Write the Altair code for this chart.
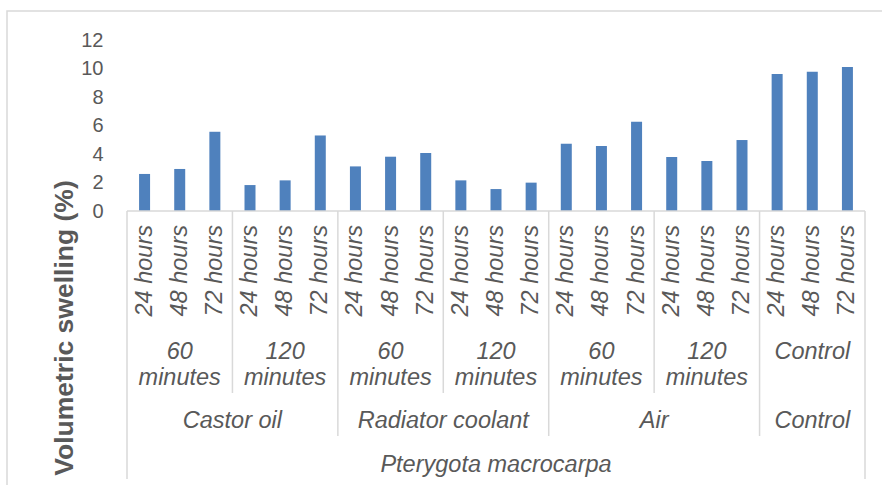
import altair as alt
import pandas as pd

# ---- data ----
species = "Pterygota macrocarpa"
treatments = ["Castor oil", "Radiator coolant", "Air", "Control"]
durations = [["60", "minutes"], ["120", "minutes"], ["60", "minutes"], ["120", "minutes"],
             ["60", "minutes"], ["120", "minutes"], ["Control", ""]]
duration_treatment = [0, 0, 1, 1, 2, 2, 3]
times = ["24 hours", "48 hours", "72 hours"]
values = [2.6, 2.95, 5.56,
          1.82, 2.15, 5.3,
          3.13, 3.81, 4.07,
          2.15, 1.54, 1.99,
          4.72, 4.56, 6.27,
          3.79, 3.51, 4.98,
          9.61, 9.78, 10.11]

# ---- tables built from the arrays ----
bars = pd.DataFrame({
    "pos": [i + 0.5 for i in range(len(values))],
    "time": [times[i % 3] for i in range(len(values))],
    "value": values,
})
dur_df = pd.DataFrame({
    "pos": [3 * g + 1.5 for g in range(len(durations))],
    "l1": [d[0] for d in durations],
    "l2": [d[1] for d in durations],
})
tr_pos = []
for t in range(len(treatments)):
    gs = [g for g, tt in enumerate(duration_treatment) if tt == t]
    tr_pos.append((3 * min(gs) + 3 * (max(gs) + 1)) / 2)
tr_df = pd.DataFrame({"pos": tr_pos, "label": treatments})
sp_df = pd.DataFrame({"pos": [len(values) / 2], "label": [species]})

# separators: between durations within same treatment, between treatments, outer
inner_b, treat_b = [], []
for g in range(1, len(durations)):
    b = 3 * g
    if duration_treatment[g] == duration_treatment[g - 1]:
        inner_b.append(b)
    else:
        treat_b.append(b)
inner_df = pd.DataFrame({"b": inner_b})
treat_df = pd.DataFrame({"b": treat_b})
outer_df = pd.DataFrame({"b": [0, len(values)]})

W, H = 738, 171
GRID = "#d9d9d9"
TXT = "#595959"
FONT = "Liberation Sans"

xs = alt.Scale(domain=[0, len(values)], nice=False, zero=False, padding=0)
X = lambda f: alt.X(f, type="quantitative", scale=xs, axis=None)

base_bar = alt.Chart(bars).mark_bar(orient="vertical", size=11, color="#4f81bd").encode(
    x=X("pos"),
    y=alt.Y("value:Q", scale=alt.Scale(domain=[0, 12], nice=False),
            axis=alt.Axis(values=[0, 2, 4, 6, 8, 10, 12], domain=False, ticks=False, grid=False,
                          labelFontSize=20, labelColor=TXT, labelFont=FONT, labelPadding=24,
                          title="Volumetric swelling (%)", titleFont=FONT, titleFontSize=26.5,
                          titleFontWeight="bold", titleColor=TXT, titleAngle=270,
                          titleX=-55, titleY=287.5, titleAlign="center",
                          titleBaseline="alphabetic")),
)

axis_line = alt.Chart(pd.DataFrame({"a": [0]})).mark_rule(color=GRID, strokeWidth=1.5).encode(
    x=alt.value(0), x2=alt.value(W), y=alt.value(H))

def rules(df, y2):
    return alt.Chart(df).mark_rule(color=GRID, strokeWidth=1.5).encode(
        x=X("b"), y=alt.value(H), y2=alt.value(y2))

text_common = dict(font=FONT, fontStyle="italic", color=TXT)

time_txt = alt.Chart(bars).mark_text(angle=270, align="right", baseline="middle",
                                     fontSize=23.5, **text_common).encode(
    x=X("pos"), y=alt.value(185), text="time:N")
dur1 = alt.Chart(dur_df).mark_text(align="center", baseline="middle", fontSize=23.5,
                                   **text_common).encode(
    x=X("pos"), y=alt.value(311.5), text="l1:N")
dur2 = alt.Chart(dur_df).mark_text(align="center", baseline="middle", fontSize=23.5,
                                   **text_common).encode(
    x=X("pos"), y=alt.value(338), text="l2:N")
tr_txt = alt.Chart(tr_df).mark_text(align="center", baseline="middle", fontSize=23.5,
                                    **text_common).encode(
    x=X("pos"), y=alt.value(380.5), text="label:N")
sp_txt = alt.Chart(sp_df).mark_text(align="center", baseline="middle", fontSize=23.5,
                                    **text_common).encode(
    x=X("pos"), y=alt.value(425), text="label:N")

border = alt.Chart(pd.DataFrame({"a": [0]})).mark_rect(
    fillOpacity=0, stroke=GRID, strokeWidth=1.5).encode(
    x=alt.value(-120), x2=alt.value(W + 40), y=alt.value(-29), y2=alt.value(H + 300))

chart = alt.layer(
    border, base_bar, axis_line,
    rules(inner_df, 353), rules(treat_df, 396), rules(outer_df, 439),
    time_txt, dur1, dur2, tr_txt, sp_txt,
).properties(
    width=W, height=H,
    autosize=alt.AutoSizeParams(type="none"),
    padding={"left": 127, "top": 40, "right": 882 - 127 - W, "bottom": 485 - 40 - H},
    background="white",
).configure_view(strokeWidth=0)

chart.save("out.html", embed_options={"renderer": "svg", "actions": False})
